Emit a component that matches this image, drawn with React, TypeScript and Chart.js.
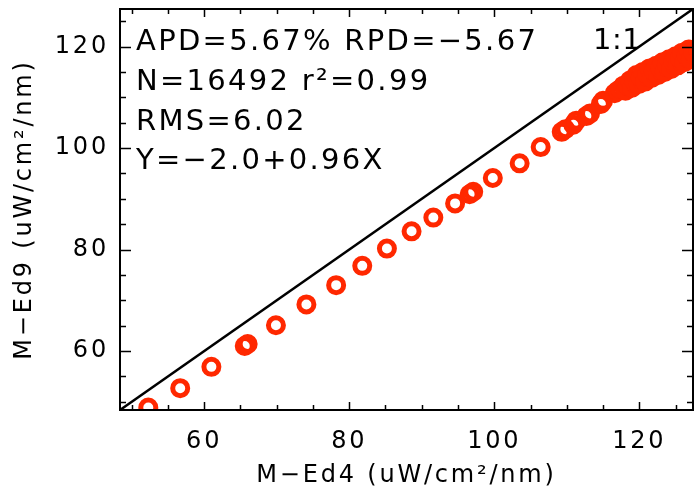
import React, { useEffect, useRef } from 'react';
import { Chart, registerables } from 'chart.js';

Chart.register(...registerables);

// ---- data ----
const xValues = [
  52.3, 56.7, 61.0, 65.6, 66.0, 69.9, 74.1, 78.2, 81.8, 85.2, 88.6, 91.6, 94.6, 96.6, 97.1,
  99.8, 103.5, 106.4, 109.3, 109.8, 110.9, 111.3, 112.7, 113.2, 114.7, 115.0, 116.6, 117.0, 117.4,
  117.8, 118.1, 118.4, 118.7, 119.0, 119.3, 119.6, 119.9, 120.2, 120.5, 120.8, 121.1, 121.4,
  121.7, 122.0, 122.3, 122.6, 122.9, 123.2, 123.5, 123.8, 124.1, 124.4, 124.7, 125.0, 125.3,
  125.6, 125.9, 126.2, 126.5, 126.8, 127.1, 127.4, 127.6,
];
const yValues = [
  48.9, 52.7, 56.9, 61.0, 61.4, 65.1, 69.2, 73.0, 76.8, 80.2, 83.6, 86.3, 89.1, 90.9, 91.4,
  94.1, 97.0, 100.2, 103.2, 103.7, 104.6, 105.4, 106.3, 106.8, 108.7, 109.3, 110.8, 111.3, 111.6,
  112.3, 111.3, 112.3, 113.3, 111.9, 113.3, 114.4, 112.6, 113.9, 115.0, 113.1, 114.5, 115.7,
  113.8, 115.2, 116.2, 114.4, 115.8, 116.9, 115.0, 116.4, 117.5, 115.6, 117.0, 118.1, 116.3,
  117.7, 118.8, 116.9, 118.3, 119.4, 117.5, 119.0, 120.1,
];
const axisMin = 48.4;
const axisMax = 127.4;
const oneToOneX = [axisMin, axisMax];
const oneToOneY = [axisMin, axisMax];
const majorTicks = [60, 80, 100, 120];
const minorTicks = [50, 55, 65, 70, 75, 85, 90, 95, 105, 110, 115, 125];
const statsLines = ['APD=5.67% RPD=\u22125.67', 'N=16492 r\u00b2=0.99', 'RMS=6.02', 'Y=\u22122.0+0.96X'];
const oneToOneLabel = '1:1';
const xTitle = 'M\u2212Ed4 (uW/cm\u00b2/nm)';
const yTitle = 'M\u2212Ed9 (uW/cm\u00b2/nm)';

const FONT = '"DejaVu Sans", sans-serif';
const RED = 'rgb(255, 40, 0)';

const idlPlugin = {
  id: 'idlBox',
  beforeDraw(chart: any) {
    (chart.ctx as any).letterSpacing = '2.8px';
  },
  afterDraw(chart: any) {
    const { ctx, chartArea: a, scales } = chart;
    const xs = scales.x;
    const ys = scales.y;
    ctx.save();
    ctx.strokeStyle = '#000';
    ctx.lineWidth = 2;
    ctx.strokeRect(a.left, a.top, a.right - a.left, a.bottom - a.top);
    ctx.lineWidth = 1.5;
    ctx.beginPath();
    const drawX = (v: number, len: number) => {
      const px = Math.round(xs.getPixelForValue(v)) + 0.5;
      ctx.moveTo(px, a.bottom);
      ctx.lineTo(px, a.bottom - len);
      ctx.moveTo(px, a.top);
      ctx.lineTo(px, a.top + len);
    };
    const drawY = (v: number, len: number) => {
      const py = Math.round(ys.getPixelForValue(v)) + 0.5;
      ctx.moveTo(a.left, py);
      ctx.lineTo(a.left + len, py);
      ctx.moveTo(a.right, py);
      ctx.lineTo(a.right - len, py);
    };
    majorTicks.forEach((v) => { drawX(v, 8); drawY(v, 11); });
    minorTicks.forEach((v) => { drawX(v, 5); drawY(v, 6); });
    ctx.stroke();

    ctx.fillStyle = '#000';
    ctx.font = `29px ${FONT}`;
    ctx.textAlign = 'left';
    ctx.textBaseline = 'alphabetic';
    (ctx as any).letterSpacing = '2.3px';
    const baselines = [50, 90, 130, 169];
    statsLines.forEach((t, i) => ctx.fillText(t, a.left + 16, baselines[i]));
    (ctx as any).letterSpacing = '0.5px';
    ctx.fillText(oneToOneLabel, 593, 49);
    ctx.restore();
  },
};

export default function App() {
  const ref = useRef<HTMLCanvasElement | null>(null);
  useEffect(() => {
    document.body.style.margin = '0';
    const canvas = ref.current;
    if (!canvas) return;
    const points = xValues.map((x, i) => ({ x, y: yValues[i] }));
    const line = oneToOneX.map((x, i) => ({ x, y: oneToOneY[i] }));
    const axisText = { family: FONT, size: 24 };
    const chart = new Chart(canvas, {
      type: 'scatter',
      data: {
        datasets: [
          {
            type: 'line',
            data: line,
            borderColor: '#000',
            borderWidth: 2.5,
            pointRadius: 0,
            fill: false,
          } as any,
          {
            data: points,
            borderColor: RED,
            backgroundColor: 'rgba(0,0,0,0)',
            pointRadius: 7.5,
            pointBorderWidth: 5,
            borderWidth: 5,
            clip: 0,
          } as any,
        ],
      },
      options: {
        responsive: false,
        animation: false,
        devicePixelRatio: 1,
        layout: { autoPadding: false, padding: { top: 9, right: 1, left: 0, bottom: 0 } },
        plugins: { legend: { display: false }, tooltip: { enabled: false } },
        scales: {
          x: {
            type: 'linear',
            min: axisMin,
            max: axisMax,
            afterFit: (s: any) => { s.height = 80; s.paddingLeft = 0; s.paddingRight = 0; },
            afterBuildTicks: (s: any) => { s.ticks = majorTicks.map((v) => ({ value: v })); },
            grid: { display: false, drawTicks: false },
            border: { display: false },
            ticks: { font: axisText, color: '#000', padding: 17, maxRotation: 0 },
            title: { display: true, text: xTitle, font: axisText, color: '#000', padding: { top: 0, bottom: 0 } },
          },
          y: {
            type: 'linear',
            min: axisMin,
            max: axisMax,
            afterFit: (s: any) => { s.width = 120; s.paddingTop = 0; s.paddingBottom = 0; },
            afterBuildTicks: (s: any) => { s.ticks = majorTicks.map((v) => ({ value: v })); },
            grid: { display: false, drawTicks: false },
            border: { display: false },
            ticks: { font: axisText, color: '#000', padding: 11 },
            title: { display: true, text: yTitle, font: axisText, color: '#000', padding: { top: 10, bottom: 0 } },
          },
        },
      },
      plugins: [idlPlugin],
    } as any);
    return () => chart.destroy();
  }, []);
  return (
    <div style={{ width: 694, height: 490 }}>
      <canvas ref={ref} width={694} height={490} />
    </div>
  );
}
